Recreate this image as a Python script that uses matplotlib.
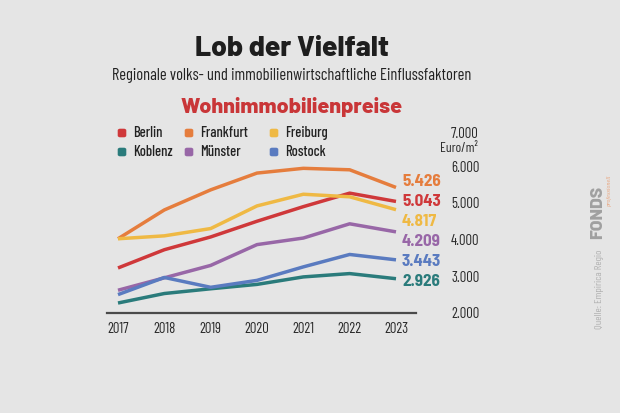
import matplotlib
matplotlib.use("Agg")
import matplotlib.pyplot as plt
from matplotlib.patches import FancyBboxPatch
import numpy as np

# ---------------- data ----------------
years = [2017, 2018, 2019, 2020, 2021, 2022, 2023]
cities = ["Berlin", "Frankfurt", "Freiburg", "Koblenz", "Münster", "Rostock"]
berlin = [3220, 3720, 4070, 4500, 4900, 5270, 5043]
frankfurt = [4020, 4810, 5360, 5820, 5950, 5910, 5426]
freiburg = [4020, 4100, 4300, 4920, 5240, 5170, 4817]
koblenz = [2260, 2520, 2650, 2770, 2975, 3066, 2926]
muenster = [2610, 2950, 3290, 3860, 4040, 4430, 4209]
rostock = [2490, 2960, 2690, 2880, 3250, 3590, 3443]
yticks = [2000, 3000, 4000, 5000, 6000, 7000]
ytick_labels = ["2.000", "3.000", "4.000", "5.000", "6.000", "7.000"]
end_labels = ["5.043", "5.426", "4.817", "2.926", "4.209", "3.443"]

series = [berlin, frankfurt, freiburg, koblenz, muenster, rostock]
colors = ["#cf383a", "#e57d3d", "#efb944", "#2a7b7b", "#9867a7", "#5a7bc0"]

W, H = 620, 413
BG = "#e5e5e5"
COND = "Barlow Condensed"

def fx(x):
    return x / W

def fy(y):
    return 1 - y / H

fig = plt.figure(figsize=(W / 100, H / 100), dpi=100, facecolor=BG)

# axes placement (pixels)
L, R, T, B = 107, 416, 130, 312.5
ax = fig.add_axes([fx(L), fy(B), (R - L) / W, (B - T) / H])
ax.set_facecolor(BG)
ax.patch.set_alpha(0)

for vals, c in zip(series, colors):
    ax.plot(years, vals, color=c, lw=2.5, solid_capstyle="butt", solid_joinstyle="round", zorder=3)

# x range: 2017 at px 118, 2023 at px 396
step = (396 - 118) / 6
ax.set_xlim(2017 - (118 - L) / step, 2023 + (R - 396) / step)
ax.set_ylim(2000, 7000)

for s in ["top", "left", "right"]:
    ax.spines[s].set_visible(False)
ax.spines["bottom"].set_color("#4a4a4a")
ax.spines["bottom"].set_linewidth(1.6)

ax.set_xticks(years)
ax.set_xticklabels([str(y) for y in years], fontfamily=COND, fontsize=10.5, color="#2a2a2a")
ax.tick_params(axis="x", length=0, pad=6.5)

ax.yaxis.tick_right()
ax.set_yticks(yticks[:-1])
ax.set_yticklabels(ytick_labels[:-1], fontfamily=COND, fontsize=10.5, color="#2a2a2a")
ax.tick_params(axis="y", length=0, pad=(451 - R) * 0.72)
for lab in ax.get_yticklabels():
    lab.set_horizontalalignment("left")
# top tick label sits a little lower than its gridline position
fig.text(fx(451), fy(134), ytick_labels[-1], fontfamily=COND, fontsize=10.5, color="#2a2a2a",
         ha="left", va="center")

fig.text(fx(478), fy(148), "Euro/m²", fontfamily=COND, fontsize=9.8, color="#2a2a2a",
         ha="right", va="center")

# end labels, spread vertically to avoid overlap
fig.canvas.draw()
to_disp = ax.transData.transform
last = [s[-1] for s in series]
ys_px = np.array([H - to_disp((2023, v))[1] for v in last])
order = np.argsort(ys_px)
gap = 20.0
center = ys_px.mean() + 3.5
n = len(order)
placed = np.empty(n)
for rank, idx in enumerate(order):
    placed[idx] = center + (rank - (n - 1) / 2) * gap
for i, (lab, c) in enumerate(zip(end_labels, colors)):
    fig.text(fx(402), fy(placed[i]), lab, fontfamily="Barlow Semi Condensed", fontweight="bold",
             fontsize=12.3, color=c, ha="left", va="center")

# titles
fig.text(fx(292), fy(56), "Lob der Vielfalt", fontfamily="Barlow", fontweight="heavy",
         fontsize=20.3, color="#1e1e1e", ha="center", va="baseline")
fig.text(fx(292), fy(80), "Regionale volks- und immobilienwirtschaftliche Einflussfaktoren",
         fontfamily=COND, fontsize=11.8, color="#222222", ha="center", va="baseline")
fig.text(fx(292), fy(113), "Wohnimmobilienpreise", fontfamily="Barlow", fontweight="heavy",
         fontsize=15.5, color="#c93638", ha="center", va="baseline")

# legend
leg_pos = [(122, 133), (189, 133), (274, 133), (122, 152), (189, 152), (274, 152)]
for (mx, my), name, c in zip(leg_pos, cities, colors):
    box = FancyBboxPatch((fx(mx - 4.3), fy(my + 4.3)), 8.6 / W, 8.6 / H,
                         boxstyle="round,pad=0,rounding_size=0.004",
                         transform=fig.transFigure, facecolor=c, edgecolor="none")
    fig.patches.append(box)
    fig.text(fx(mx + 11.5), fy(my), name, fontfamily=COND, fontweight="medium", fontsize=10.5,
             color="#222222", ha="left", va="center")

# side credits
fig.text(fx(600), fy(289), "Quelle: Empirica Regio", fontfamily=COND, fontsize=7.5,
         color="#b0b0b0", rotation=90, ha="center", va="center")
fig.text(fx(598), fy(212), "FONDS", fontfamily="Barlow", fontweight="heavy", fontsize=12.5,
         color="#a0a0a0", rotation=90, ha="center", va="center")
fig.text(fx(609), fy(190), "professionell", fontfamily="DejaVu Serif", fontstyle="italic",
         fontsize=3.5, color="#e9a47c", rotation=90, ha="center", va="center")

fig.savefig("out.png", dpi=100, facecolor=BG)
